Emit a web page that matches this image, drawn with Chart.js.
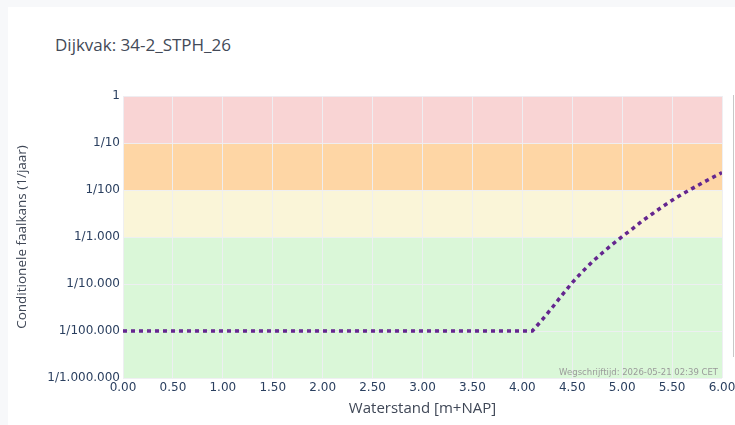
<!DOCTYPE html>
<html>
<head>
<meta charset="utf-8">
<script src="https://cdn.jsdelivr.net/npm/chart.js@4.4.1/dist/chart.umd.min.js"></script>
<style>
  html, body { margin: 0; padding: 0; background: #f7f8fa; }
  #card { position: absolute; left: 8px; top: 7px; width: 740px; height: 430px; background: #fff; }
  #wrap { position: absolute; left: 0; top: 0; width: 735px; height: 425px; }
  #titel { position: absolute; left: 55px; top: 35px; font: 17px "Open Sans", sans-serif; line-height: 20px; color: #434a58; }
  #rand { position: absolute; left: 733px; top: 95px; width: 1px; height: 262px; background: #c8c8c8; }
</style>
</head>
<body>
<div id="card"></div>
<div id="titel">Dijkvak: 34-2_STPH_26</div>
<div id="rand"></div>
<div id="wrap"><canvas id="grafiek" width="735" height="425"></canvas></div>
<script>
// Waterstand (m+NAP) en conditionele faalkans (1/jaar)
var waterstand = [0.0, 4.1, 4.2, 4.3, 4.4, 4.5, 4.6, 4.7, 4.8, 4.9, 5.0, 5.1, 5.2, 5.3, 5.4, 5.5, 5.6, 5.7, 5.8, 5.9, 6.0];
var faalkans = [1e-5, 1e-5, 1.74e-5, 3.16e-5, 5.89e-5, 1.07e-4, 1.82e-4, 2.95e-4, 4.57e-4, 6.92e-4, 1.02e-3,
                1.48e-3, 2.19e-3, 3.09e-3, 4.37e-3, 6.03e-3, 8.13e-3, 1.07e-2, 1.41e-2, 1.82e-2, 2.34e-2];

// Y-as labels
var yTicks = [1, 1e-1, 1e-2, 1e-3, 1e-4, 1e-5, 1e-6];
var yLabels = ['1', '1/10', '1/100', '1/1.000', '1/10.000', '1/100.000', '1/1.000.000'];

// Kleurvlakken (van, tot)
var bandVan = [1e-1, 1e-2, 1e-3, 1e-6];
var bandTot = [1, 1e-1, 1e-2, 1e-3];
var bandKleur = ['#f9d4d4', '#fed6a5', '#faf5d8', '#daf7d8'];

var stempel = 'Wegschrijftijd: 2026-05-21 02:39 CET';

var punten = waterstand.map(function (x, i) { return { x: x, y: faalkans[i] }; });

// Achtergrondvlakken tekenen onder het grid
var vlakken = {
    id: 'vlakken',
    beforeDraw: function (chart) {
        var ctx = chart.ctx, area = chart.chartArea, y = chart.scales.y;
        ctx.save();
        for (var i = 0; i < bandKleur.length; i++) {
            var top = y.getPixelForValue(bandTot[i]);
            var bot = y.getPixelForValue(bandVan[i]);
            ctx.fillStyle = bandKleur[i];
            ctx.fillRect(area.left, top, area.right - area.left, bot - top);
        }
        ctx.restore();
    },
    afterDatasetsDraw: function (chart) {
        var ctx = chart.ctx, area = chart.chartArea;
        ctx.save();
        ctx.font = '8.5px "DejaVu Sans", sans-serif';
        ctx.fillStyle = '#9a9a9a';
        ctx.textAlign = 'right';
        ctx.textBaseline = 'alphabetic';
        ctx.fillText(stempel, area.right - 4, area.bottom - 3);
        ctx.restore();
    }
};

var ctx = document.getElementById('grafiek').getContext('2d');
var grafiek = new Chart(ctx, {
    type: 'line',
    data: {
        datasets: [{
            data: punten,
            borderColor: '#64268f',
            borderWidth: 3.5,
            borderDash: [4, 4],
            pointRadius: 0,
            tension: 0,
            fill: false
        }]
    },
    options: {
        responsive: false,
        animation: false,
        layout: { padding: { top: 96, right: 13, bottom: 3, left: 10 } },
        plugins: {
            legend: { display: false },
            tooltip: { enabled: false }
        },
        scales: {
            x: {
                type: 'linear',
                min: 0,
                max: 6,
                ticks: {
                    stepSize: 0.5,
                    padding: 3,
                    maxRotation: 0,
                    color: '#2a3f5f',
                    font: { family: 'DejaVu Sans', size: 12 },
                    callback: function (v) { return v.toFixed(2); }
                },
                grid: { color: 'rgba(238,238,242,0.95)', drawTicks: false },
                border: { display: false },
                title: {
                    display: true,
                    text: 'Waterstand [m+NAP]',
                    color: '#3f4756',
                    font: { family: 'Open Sans', size: 15 },
                    padding: { top: 4, bottom: 4 }
                },
                afterFit: function (s) { s.height = 44; s.paddingLeft = 0; s.paddingRight = 0; }
            },
            y: {
                type: 'logarithmic',
                min: 1e-6,
                max: 1,
                afterBuildTicks: function (s) {
                    s.ticks = yTicks.map(function (v) { return { value: v }; });
                },
                ticks: {
                    padding: 3,
                    color: '#2a3f5f',
                    font: { family: 'DejaVu Sans', size: 12 },
                    callback: function (v) {
                        var i = yTicks.findIndex(function (t) { return Math.abs(Math.log10(t) - Math.log10(v)) < 1e-6; });
                        return i >= 0 ? yLabels[i] : '';
                    }
                },
                grid: { color: 'rgba(238,238,242,0.95)', drawTicks: false },
                border: { display: false },
                title: {
                    display: true,
                    text: 'Conditionele faalkans (1/jaar)',
                    color: '#3f4756',
                    font: { family: 'Open Sans', size: 13.5 },
                    padding: { top: 4, bottom: 4 }
                },
                afterFit: function (s) { s.width = 113; s.paddingTop = 0; s.paddingBottom = 0; }
            }
        }
    },
    plugins: [vlakken]
});
</script>
</body>
</html>
